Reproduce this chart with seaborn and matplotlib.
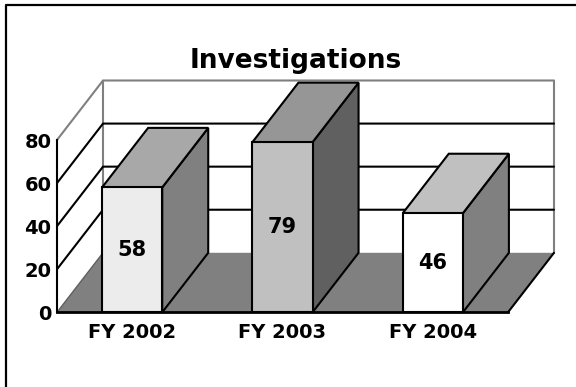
import matplotlib
matplotlib.use("Agg")
import matplotlib.pyplot as plt
from matplotlib.patches import Polygon
from matplotlib.lines import Line2D
import seaborn as sns

# ---- data -------------------------------------------------------------
years = ["FY 2002", "FY 2003", "FY 2004"]
investigations = [58, 79, 46]
y_ticks = [0, 20, 40, 60, 80]
title = "Investigations"

# face shades per bar: front, top, side
front_colors = ["#ECECEC", "#C0C0C0", "#FFFFFF"]
top_colors = ["#A8A8A8", "#969696", "#C0C0C0"]
side_colors = ["#808080", "#606060", "#808080"]

FLOOR = "#808080"
WALL_EDGE = "#808080"
LW = 1.5

sns.set_theme(style="white")
plt.rcParams["font.family"] = ["DejaVu Sans"]
plt.rcParams["font.weight"] = "bold"

W, H = 576, 387
fig = plt.figure(figsize=(W / 100, H / 100), dpi=100)
fig.patch.set_facecolor("white")

# front plane of the 3-D box, in pixels
left_px, right_px, base_px, top_px = 57, 508, 312.3, 140
ax = fig.add_axes([left_px / W, (H - base_px) / H,
                   (right_px - left_px) / W, (base_px - top_px) / H])

sns.barplot(x=years, y=investigations, hue=years, palette=front_colors,
            saturation=1, width=0.4, edgecolor="black", linewidth=LW,
            legend=False, ax=ax, zorder=5)

ax.set_xlim(-0.5, 2.5)
ax.set_ylim(0, 80)
ax.set_facecolor("none")


def depth_in_data(px):
    inv = ax.transData.inverted()
    x0, y0 = inv.transform((0, 0))
    x1, y1 = inv.transform(px)
    return x1 - x0, y1 - y0


ddx, ddy = depth_in_data((46, 59.5))
x0, x1 = -0.5, 2.5
ymax = y_ticks[-1]

# back wall and left wall
ax.add_patch(Polygon([(x0 + ddx, ddy), (x1 + ddx, ddy), (x1 + ddx, ymax + ddy),
                      (x0 + ddx, ymax + ddy)], closed=True, facecolor="white",
                     edgecolor="none", zorder=0.5, clip_on=False))
for xs in (x0 + ddx, x1 + ddx):
    ax.plot([xs, xs], [ddy, ymax + ddy], color=WALL_EDGE, lw=LW,
            zorder=0.8, clip_on=False)

# gridlines running along left wall and back wall
for v in y_ticks[1:]:
    col = WALL_EDGE if v == ymax else "black"
    ax.plot([x0, x0 + ddx, x1 + ddx], [v, v + ddy, v + ddy], color=col,
            lw=LW, zorder=0.9, clip_on=False, solid_joinstyle="miter")

# floor
ax.add_patch(Polygon([(x0, 0), (x1, 0), (x1 + ddx, ddy), (x0 + ddx, ddy)],
                     closed=True, facecolor=FLOOR, edgecolor="none",
                     zorder=1, clip_on=False))
ax.plot([x1, x1 + ddx], [0, ddy], color="black", lw=LW, zorder=1.2,
        clip_on=False)
ax.plot([x0, x0 + ddx], [0, ddy], color="#606060", lw=1.0, zorder=1.2,
        clip_on=False)

# top and side faces for every bar
for i, bar in enumerate(ax.patches):
    if not hasattr(bar, "get_width") or bar.get_height() <= 0:
        continue
    bx, bw, bh = bar.get_x(), bar.get_width(), bar.get_height()
    top = [(bx, bh), (bx + bw, bh), (bx + bw + ddx, bh + ddy), (bx + ddx, bh + ddy)]
    side = [(bx + bw, 0), (bx + bw, bh), (bx + bw + ddx, bh + ddy), (bx + bw + ddx, ddy)]
    ax.add_patch(Polygon(side, closed=True, facecolor=side_colors[i],
                         edgecolor="black", lw=LW, zorder=4, clip_on=False,
                         joinstyle="miter"))
    ax.add_patch(Polygon(top, closed=True, facecolor=top_colors[i],
                         edgecolor="black", lw=LW, zorder=4, clip_on=False,
                         joinstyle="miter"))

# value labels centred on the front faces
for i, v in enumerate(investigations):
    ax.text(i, v / 2, str(v), ha="center", va="center", fontsize=15,
            fontweight="bold", color="black", zorder=6)

# axes styling
for s in ("top", "right"):
    ax.spines[s].set_visible(False)
ax.spines["left"].set_color("black")
ax.spines["left"].set_linewidth(LW)
ax.spines["bottom"].set_color("black")
ax.spines["bottom"].set_linewidth(2)
ax.spines["left"].set_zorder(2)
ax.spines["bottom"].set_zorder(2)
ax.set_yticks(y_ticks)
ax.set_yticklabels([str(t) for t in y_ticks], fontsize=14, fontweight="bold")
ax.set_xticks(range(len(years)))
ax.set_xticklabels(years, fontsize=14, fontweight="bold")
ax.tick_params(axis="y", length=0, pad=4, colors="black")
ax.tick_params(axis="x", length=0, pad=8, colors="black")
ax.set_xlabel("")
ax.set_ylabel("")
ax.grid(False)

fig.text(295.5 / W, 1 - 67.5 / H, title, ha="center", va="baseline",
         fontsize=19, fontweight="bold", color="black")

# frame lines along the top and left edges
fig.add_artist(Line2D([6 / W, 6 / W, 1], [0, 1 - 4.5 / H, 1 - 4.5 / H],
                      transform=fig.transFigure, color="black", lw=1.6))

fig.savefig("out.png", dpi=100, facecolor="white")
